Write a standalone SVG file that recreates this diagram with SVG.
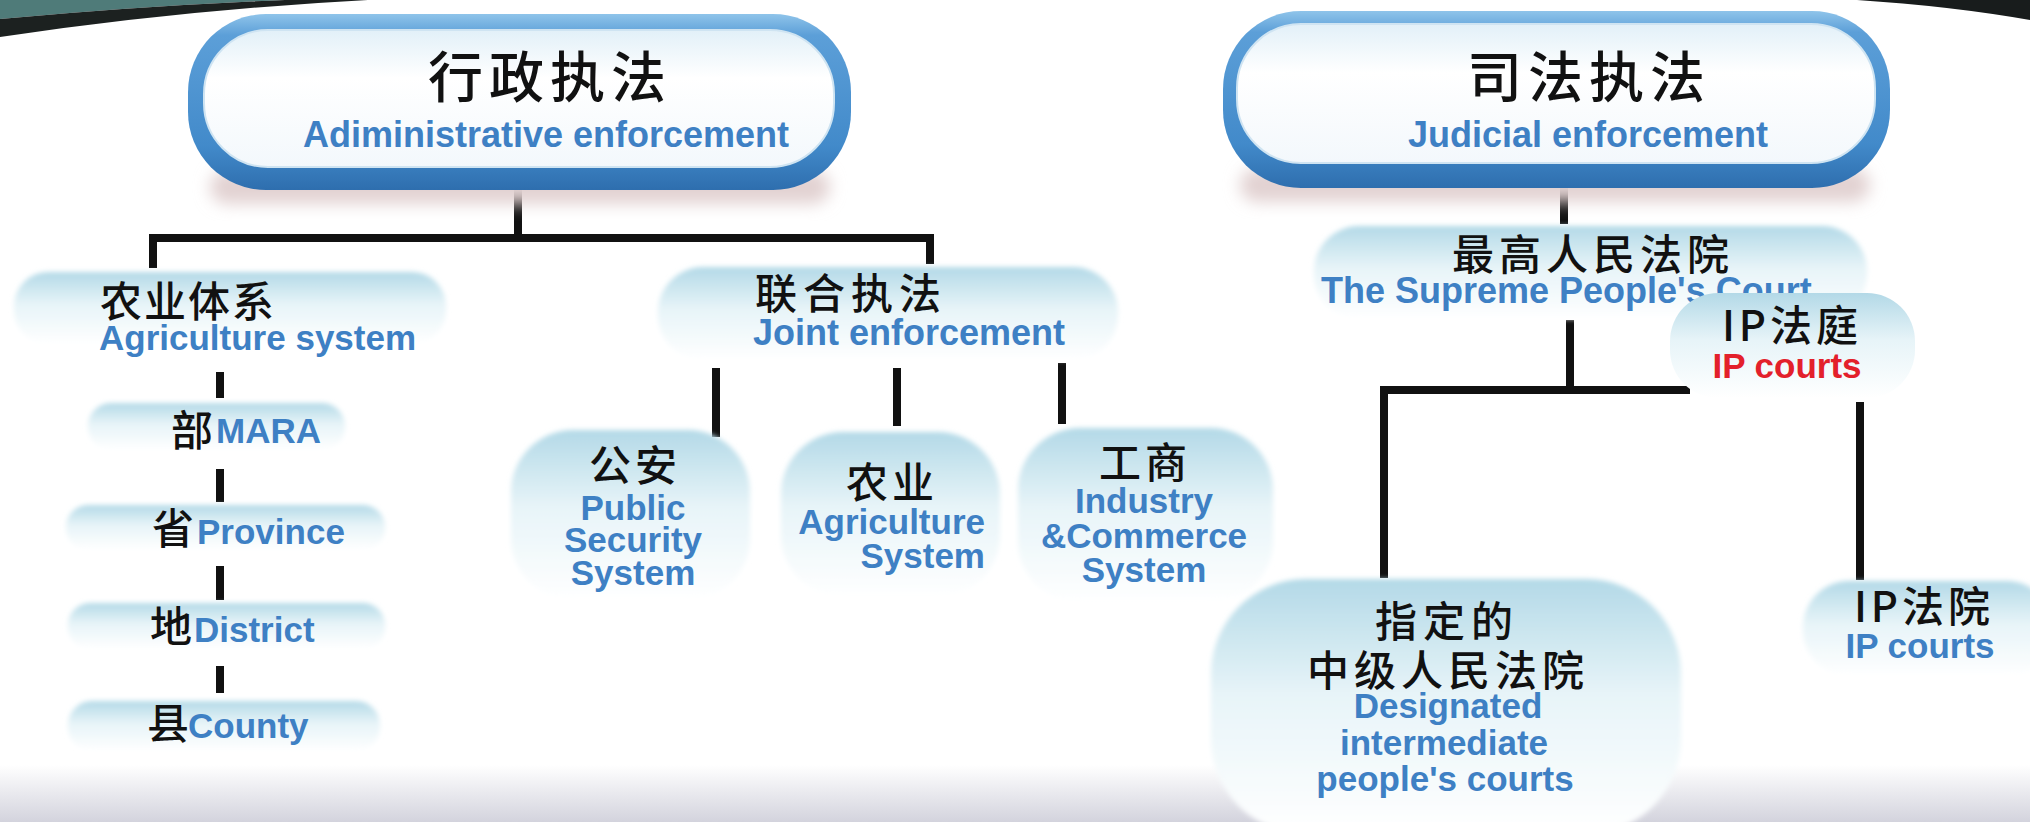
<svg xmlns="http://www.w3.org/2000/svg" width="2030" height="822" viewBox="0 0 2030 822">
<defs>
  <linearGradient id="outerG" x1="0" y1="0" x2="0" y2="1">
    <stop offset="0" stop-color="#8fc4ea"/>
    <stop offset="0.12" stop-color="#5c9fd8"/>
    <stop offset="0.75" stop-color="#428aca"/>
    <stop offset="1" stop-color="#2e6eae"/>
  </linearGradient>
  <linearGradient id="innerG" x1="0" y1="0" x2="0" y2="1">
    <stop offset="0" stop-color="#e2f0f8"/>
    <stop offset="0.35" stop-color="#ffffff"/>
    <stop offset="1" stop-color="#f3f8fc"/>
  </linearGradient>
  <linearGradient id="nodeG" x1="0" y1="0" x2="0" y2="1">
    <stop offset="0" stop-color="#b3d9e7"/>
    <stop offset="0.45" stop-color="#e7f4f8"/>
    <stop offset="1" stop-color="#ffffff"/>
  </linearGradient>
  <linearGradient id="floorG" x1="0" y1="0" x2="0" y2="1">
    <stop offset="0" stop-color="#ffffff"/>
    <stop offset="1" stop-color="#d3d3dd"/>
  </linearGradient>
  <filter id="soft" x="-10%" y="-10%" width="120%" height="120%"><feGaussianBlur stdDeviation="2.5"/></filter>
  <filter id="shadow" x="-20%" y="-50%" width="140%" height="200%"><feGaussianBlur stdDeviation="8"/></filter>
</defs>
<style>
  .cn{font-family:"Noto Sans CJK SC",sans-serif;fill:#111;font-weight:500}
  .en{font-family:"Liberation Sans",Arial,sans-serif;font-weight:bold;fill:#3e80c4}
  .red{fill:#e3202b}
  .line{stroke:#111;stroke-width:8;fill:none}
  .pill{fill:url(#nodeG);filter:url(#soft)}
  .outer{fill:url(#outerG)}
  .inner{fill:url(#innerG);stroke:#cfe4f2;stroke-width:2}
  .shadow{fill:#e2d2d2;filter:url(#shadow)}
</style>

<!-- background -->
<rect x="0" y="0" width="2030" height="822" fill="#ffffff"/>
<rect x="0" y="765" width="2030" height="57" fill="url(#floorG)"/>
<path d="M0,0 H285 Q140,6 0,19 Z" fill="#4f7b79"/>
<path d="M285,0 H368 Q180,10 0,37 V19 Q140,6 285,0 Z" fill="#1c2120"/>
<path d="M1857,0 H2030 V20 Q1950,6 1857,0 Z" fill="#181c1c"/>

<!-- connectors -->
<g id="connectors">
  <line class="line" x1="518" y1="186" x2="518" y2="238"/>
  <line class="line" x1="149" y1="238" x2="934" y2="238"/>
  <line class="line" x1="153" y1="238" x2="153" y2="268"/>
  <line class="line" x1="930" y1="238" x2="930" y2="264"/>
  <line class="line" x1="220" y1="372" x2="220" y2="398"/>
  <line class="line" x1="220" y1="469" x2="220" y2="502"/>
  <line class="line" x1="220" y1="566" x2="220" y2="600"/>
  <line class="line" x1="220" y1="666" x2="220" y2="693"/>
  <line class="line" x1="716" y1="368" x2="716" y2="437" stroke-width="7"/>
  <line class="line" x1="897" y1="368" x2="897" y2="426" stroke-width="7"/>
  <line class="line" x1="1062" y1="363" x2="1062" y2="424" stroke-width="7"/>
  <line class="line" x1="1564" y1="185" x2="1564" y2="224"/>
  <line class="line" x1="1570" y1="320" x2="1570" y2="390"/>
  <line class="line" x1="1380" y1="390" x2="1690" y2="390"/>
  <line class="line" x1="1384" y1="386" x2="1384" y2="578"/>
  <line class="line" x1="1860" y1="402" x2="1860" y2="580"/>
</g>

<!-- title boxes -->
<g id="admin">
  <rect class="shadow" x="210" y="170" width="620" height="34" rx="17"/>
  <rect class="outer" x="188" y="14" width="663" height="176" rx="78"/>
  <rect class="inner" x="204" y="30" width="630" height="137" rx="64"/>
  <text class="cn" x="550" y="97" font-size="55" letter-spacing="6" text-anchor="middle">行政执法</text>
  <text class="en" x="546" y="147" font-size="36" text-anchor="middle">Adiministrative enforcement</text>
</g>
<g id="judicial">
  <rect class="shadow" x="1240" y="168" width="630" height="34" rx="17"/>
  <rect class="outer" x="1223" y="11" width="667" height="177" rx="78"/>
  <rect class="inner" x="1237" y="24" width="638" height="139" rx="64"/>
  <text class="cn" x="1589" y="97" font-size="55" letter-spacing="6" text-anchor="middle">司法执法</text>
  <text class="en" x="1588" y="147" font-size="36" text-anchor="middle">Judicial enforcement</text>
</g>

<!-- administrative branch -->
<g id="agri">
  <rect class="pill" x="14" y="272" width="432" height="72" rx="34"/>
  <text class="cn" x="100" y="317" font-size="42" letter-spacing="2">农业体系</text>
  <text class="en" x="99" y="350" font-size="35">Agriculture system</text>
</g>
<g id="mara">
  <rect class="pill" x="88" y="403" width="257" height="47" rx="23"/>
  <text class="cn" x="171" y="446" font-size="42">部</text>
  <text class="en" x="216" y="443" font-size="35">MARA</text>
</g>
<g id="province">
  <rect class="pill" x="66" y="505" width="319" height="45" rx="22"/>
  <text class="cn" x="152" y="544" font-size="42">省</text>
  <text class="en" x="197" y="544" font-size="35">Province</text>
</g>
<g id="district">
  <rect class="pill" x="68" y="603" width="317" height="46" rx="22"/>
  <text class="cn" x="150" y="642" font-size="42">地</text>
  <text class="en" x="194" y="642" font-size="35">District</text>
</g>
<g id="county">
  <rect class="pill" x="68" y="701" width="312" height="50" rx="24"/>
  <text class="cn" x="147" y="739" font-size="42">县</text>
  <text class="en" x="188" y="738" font-size="35">County</text>
</g>

<g id="joint">
  <rect class="pill" x="658" y="267" width="460" height="93" rx="45"/>
  <text class="cn" x="851" y="309" font-size="42" letter-spacing="6" text-anchor="middle">联合执法</text>
  <text class="en" x="753" y="345" font-size="36">Joint enforcement</text>
</g>
<g id="police">
  <rect class="pill" x="511" y="430" width="239" height="170" rx="62"/>
  <text class="cn" x="635" y="481" font-size="42" letter-spacing="4" text-anchor="middle">公安</text>
  <text class="en" x="633" y="520" font-size="35" text-anchor="middle">Public</text>
  <text class="en" x="633" y="552" font-size="35" text-anchor="middle">Security</text>
  <text class="en" x="633" y="585" font-size="35" text-anchor="middle">System</text>
</g>
<g id="agriculture">
  <rect class="pill" x="781" y="432" width="219" height="165" rx="62"/>
  <text class="cn" x="892" y="498" font-size="42" letter-spacing="4" text-anchor="middle">农业</text>
  <text class="en" x="985" y="534" font-size="35" text-anchor="end">Agriculture</text>
  <text class="en" x="985" y="568" font-size="35" text-anchor="end">System</text>
</g>
<g id="commerce">
  <rect class="pill" x="1018" y="428" width="255" height="175" rx="62"/>
  <text class="cn" x="1145" y="478" font-size="42" letter-spacing="4" text-anchor="middle">工商</text>
  <text class="en" x="1144" y="513" font-size="35" text-anchor="middle">Industry</text>
  <text class="en" x="1144" y="548" font-size="35" text-anchor="middle">&amp;Commerce</text>
  <text class="en" x="1144" y="582" font-size="35" text-anchor="middle">System</text>
</g>

<!-- judicial branch -->
<g id="spc">
  <rect class="pill" x="1314" y="226" width="553" height="93" rx="45"/>
  <text class="cn" x="1593" y="270" font-size="42" letter-spacing="5" text-anchor="middle">最高人民法院</text>
  <text class="en" x="1321" y="303" font-size="36">The Supreme People's Court</text>
</g>
<g id="ip-tribunal">
  <rect x="1670" y="293" width="245" height="105" rx="48" fill="url(#nodeG)"/>
  <text class="cn" x="1792" y="341" font-size="42" letter-spacing="4" text-anchor="middle">IP法庭</text>
  <text class="en red" x="1787" y="378" font-size="35" text-anchor="middle">IP courts</text>
</g>
<g id="intermediate">
  <rect class="pill" x="1211" y="579" width="470" height="255" rx="95"/>
  <text class="cn" x="1447" y="637" font-size="42" letter-spacing="6" text-anchor="middle">指定的</text>
  <text class="cn" x="1448" y="686" font-size="42" letter-spacing="5" text-anchor="middle">中级人民法院</text>
  <text class="en" x="1448" y="718" font-size="35" text-anchor="middle">Designated</text>
  <text class="en" x="1444" y="755" font-size="35" text-anchor="middle">intermediate</text>
  <text class="en" x="1445" y="791" font-size="35" text-anchor="middle">people's courts</text>
</g>
<g id="ip-court">
  <rect class="pill" x="1803" y="581" width="250" height="95" rx="46"/>
  <text class="cn" x="1924" y="622" font-size="42" letter-spacing="4" text-anchor="middle">IP法院</text>
  <text class="en" x="1920" y="658" font-size="35" text-anchor="middle">IP courts</text>
</g>
</svg>
